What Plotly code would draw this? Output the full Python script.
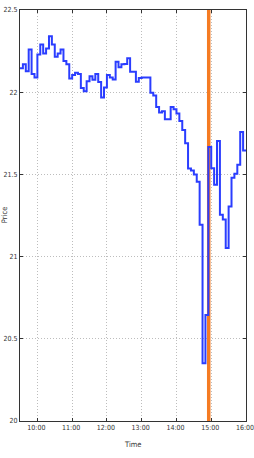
import pandas as pd
import plotly.graph_objects as go

day = "2013-01-02"
start_time = "09:30"
end_time = "16:00"
bar_minutes = 5
marker_time = "14:55:40"

prices = [
    22.146, 22.17, 22.128, 22.26, 22.11, 22.09,
    22.23, 22.29, 22.236, 22.266, 22.34, 22.29, 22.215, 22.236, 22.26, 22.19, 22.17, 22.083,
    22.104, 22.118, 22.11, 22.026, 22.006, 22.067, 22.097, 22.076, 22.11, 22.062, 21.968, 22.028,
    22.104, 22.09, 22.077, 22.185, 22.152, 22.17, 22.172, 22.207, 22.124, 22.124, 22.063, 22.087,
    22.09, 22.09, 22.09, 21.996, 21.98, 21.91, 21.876, 21.884, 21.835, 21.835, 21.91, 21.896,
    21.87, 21.825, 21.77, 21.69, 21.536, 21.524, 21.5, 21.455, 21.194, 20.352, 20.645, 21.667,
    21.538, 21.437, 21.703, 21.254, 21.226, 21.053, 21.305, 21.48, 21.504, 21.559, 21.758, 21.646,
]

y_ticks = [20, 20.5, 21, 21.5, 22, 22.5]
y_tick_labels = ["20", "20.5", "21", "21.5", "22", "22.5"]
x_tick_labels = ["10:00", "11:00", "12:00", "13:00", "14:00", "15:00", "16:00"]

times = list(pd.date_range(f"{day} {start_time}", periods=len(prices), freq=f"{bar_minutes}min"))
x_vals = times + [pd.Timestamp(f"{day} {end_time}")]
y_vals = prices + [prices[-1]]
x_ticks = [pd.Timestamp(f"{day} {t}") for t in x_tick_labels]
marker_ts = pd.Timestamp(f"{day} {marker_time}")

font_family = "Liberation Sans Narrow, DejaVu Sans Condensed, Arial Narrow, sans-serif"

fig = go.Figure()
fig.add_trace(go.Scatter(
    x=[marker_ts, marker_ts], y=[y_ticks[0], y_ticks[-1]],
    mode="lines", line=dict(color="#f57b22", width=3.5), hoverinfo="skip",
))
fig.add_trace(go.Scatter(
    x=x_vals, y=y_vals, mode="lines", line_shape="hv",
    line=dict(color="#2a3dff", width=2),
))

axis_common = dict(
    showline=True, linecolor="#333333", linewidth=1, mirror="ticks",
    ticks="inside", ticklen=3, tickcolor="#333333",
    showgrid=True, gridcolor="#bdbdbd", griddash="1px,2px", gridwidth=1,
    zeroline=False, tickfont=dict(family=font_family, size=7, color="#333333"),
    ticklabeloverflow="allow", automargin=False,
)

fig.update_layout(
    width=254, height=458,
    margin=dict(l=20, r=8, t=10, b=37),
    paper_bgcolor="white", plot_bgcolor="white",
    showlegend=False,
    xaxis=dict(
        range=[pd.Timestamp(f"{day} {start_time}"), pd.Timestamp(f"{day} {end_time}")],
        tickvals=x_ticks, ticktext=x_tick_labels, ticklabelshift=-1, **axis_common,
    ),
    yaxis=dict(
        range=[y_ticks[0], y_ticks[-1]],
        tickvals=y_ticks, ticktext=y_tick_labels, **axis_common,
    ),
    annotations=[
        dict(text="Price", xref="paper", yref="paper", x=-0.068, y=0.5,
             textangle=-90, showarrow=False, xanchor="center", yanchor="middle",
             font=dict(family=font_family, size=7.5, color="#333333")),
        dict(text="Time", xref="paper", yref="paper", x=0.5, y=-0.058,
             showarrow=False, xanchor="center", yanchor="middle",
             font=dict(family=font_family, size=7.5, color="#333333")),
    ],
)

fig.write_html(
    "out.html",
    config={"displayModeBar": False},
    post_script="document.body.style.margin='0';document.body.style.overflow='hidden';",
)
